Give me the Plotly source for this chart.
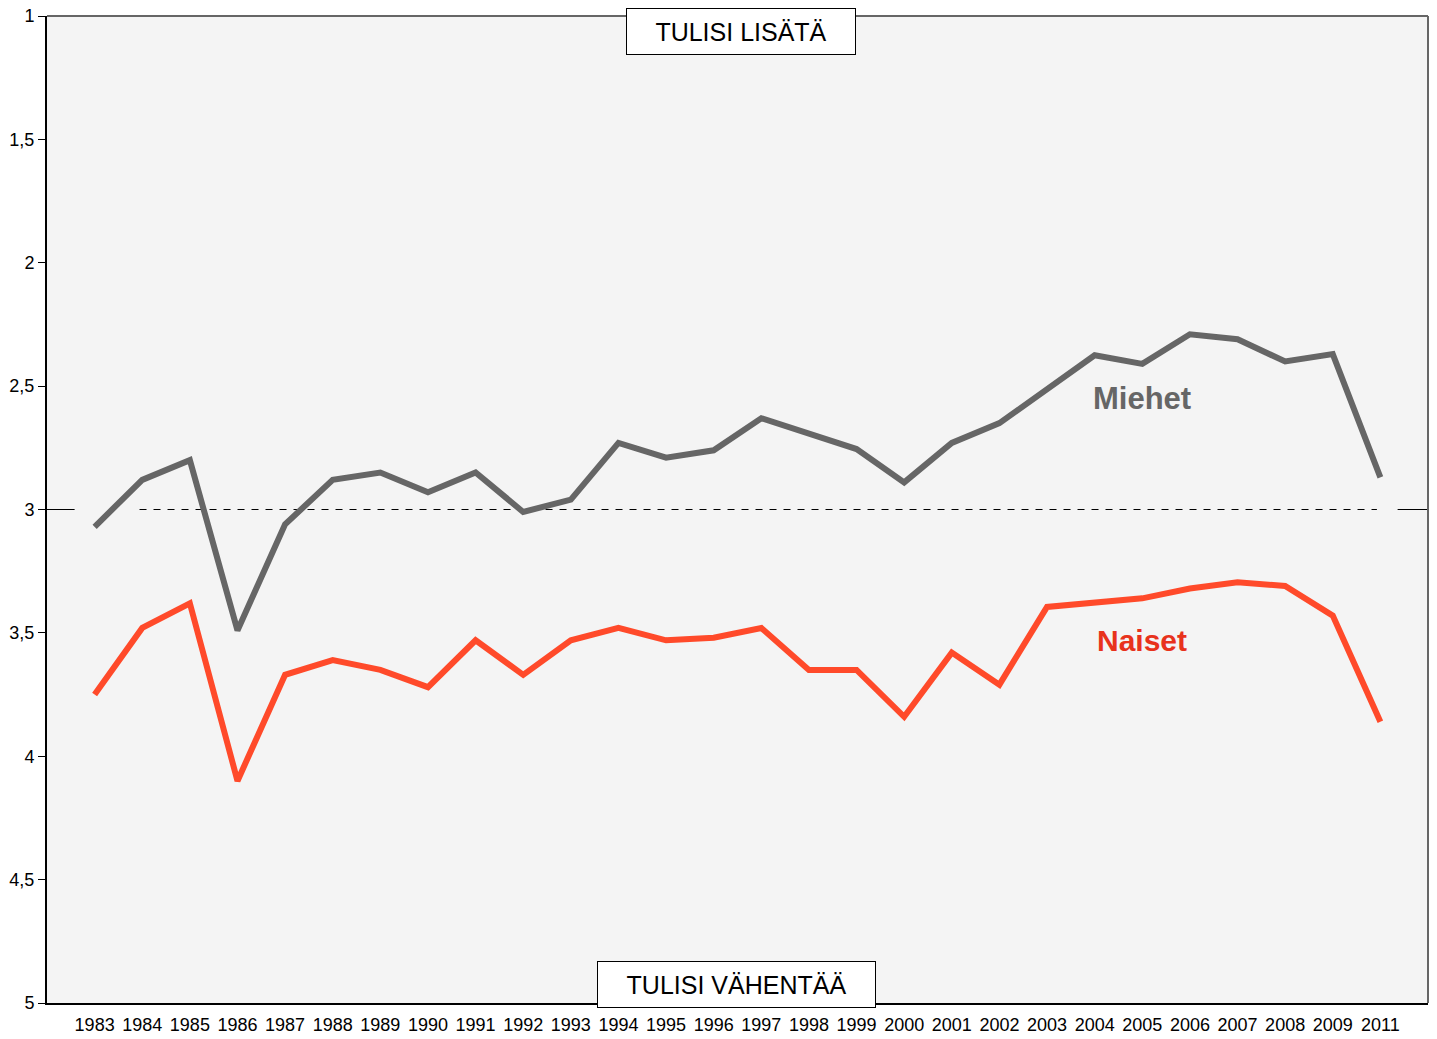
import plotly.graph_objects as go

years = ["1983", "1984", "1985", "1986", "1987", "1988", "1989", "1990", "1991", "1992",
         "1993", "1994", "1995", "1996", "1997", "1998", "1999", "2000", "2001", "2002",
         "2003", "2004", "2005", "2006", "2007", "2008", "2009", "2011"]

miehet = [3.07, 2.88, 2.80, 3.49, 3.06, 2.88, 2.85, 2.93, 2.85, 3.01,
          2.96, 2.73, 2.79, 2.76, 2.63, 2.69, 2.755, 2.89, 2.73, 2.65,
          2.51, 2.375, 2.41, 2.29, 2.31, 2.40, 2.37, 2.87]

naiset = [3.75, 3.48, 3.38, 4.10, 3.67, 3.61, 3.65, 3.72, 3.53, 3.67,
          3.53, 3.48, 3.53, 3.52, 3.48, 3.65, 3.65, 3.84, 3.58, 3.71,
          3.395, 3.38, 3.36, 3.32, 3.295, 3.31, 3.43, 3.86]

ytick_vals = [1, 1.5, 2, 2.5, 3, 3.5, 4, 4.5, 5]
ytick_text = ["1", "1,5", "2", "2,5", "3", "3,5", "4", "4,5", "5"]

GRAY = "#666666"
RED = "#ff4a2a"
FONT = "Liberation Sans, Arial, sans-serif"

fig = go.Figure()
fig.add_trace(go.Scatter(x=years, y=miehet, mode="lines", name="Miehet",
                         line=dict(color=GRAY, width=6), showlegend=False))
fig.add_trace(go.Scatter(x=years, y=naiset, mode="lines", name="Naiset",
                         line=dict(color=RED, width=6), showlegend=False))

# reference line at 3
fig.add_shape(type="line", xref="paper", yref="y", x0=0, x1=0.02, y0=3, y1=3,
              line=dict(color="black", width=1), layer="below")
fig.add_shape(type="line", xref="paper", yref="y", x0=0.067, x1=0.963, y0=3, y1=3,
              line=dict(color="black", width=1, dash="7px,7px"), layer="below")
fig.add_shape(type="line", xref="paper", yref="y", x0=0.978, x1=1, y0=3, y1=3,
              line=dict(color="black", width=1), layer="below")

# top and right frame lines
fig.add_shape(type="line", xref="paper", yref="paper", x0=0, x1=1, y0=1, y1=1,
              line=dict(color=GRAY, width=2))
fig.add_shape(type="line", xref="paper", yref="paper", x0=1, x1=1, y0=0, y1=1,
              line=dict(color=GRAY, width=2))

fig.add_annotation(x=0.5025, y=0.9845, xref="paper", yref="paper", text="TULISI LISÄTÄ",
                   xanchor="center", yanchor="middle",
                   showarrow=False, font=dict(family=FONT, size=25, color="black"),
                   bgcolor="white", bordercolor="black", borderwidth=1, borderpad=5,
                   width=218, height=35)
fig.add_annotation(x=0.4995, y=0.0185, xref="paper", yref="paper", text="TULISI VÄHENTÄÄ",
                   xanchor="center", yanchor="middle",
                   showarrow=False, font=dict(family=FONT, size=25, color="black"),
                   bgcolor="white", bordercolor="black", borderwidth=1, borderpad=5,
                   width=267, height=35)

fig.add_annotation(x=0.793, y=2.55, xref="paper", yref="y", text="<b>Miehet</b>",
                   xanchor="center", yanchor="middle",
                   showarrow=False, font=dict(family=FONT, size=31, color=GRAY))
fig.add_annotation(x=0.793, y=3.53, xref="paper", yref="y", text="<b>Naiset</b>",
                   xanchor="center", yanchor="middle",
                   showarrow=False, font=dict(family=FONT, size=30, color="#e8321c"))

fig.update_layout(
    width=1437, height=1039,
    margin=dict(l=47, r=9, t=16, b=36),
    paper_bgcolor="white",
    plot_bgcolor="#f4f4f4",
    font=dict(family=FONT, size=18, color="black"),
    xaxis=dict(type="category", range=[-1, 28], showgrid=False, zeroline=False,
               showline=True, linecolor="black", linewidth=2, ticks="",
               tickfont=dict(size=18), ticklabelstandoff=4, automargin=False),
    yaxis=dict(range=[5, 1], showgrid=False, zeroline=False, showline=True,
               linecolor="black", linewidth=2, ticks="outside", ticklen=7,
               tickcolor="black", tickvals=ytick_vals, ticktext=ytick_text,
               tickfont=dict(size=18), automargin=False),
)

# remove the default page margin so the figure fills the window exactly
fig.write_html("out.html", config={"displayModeBar": False},
               post_script="document.body.style.margin='0';")
